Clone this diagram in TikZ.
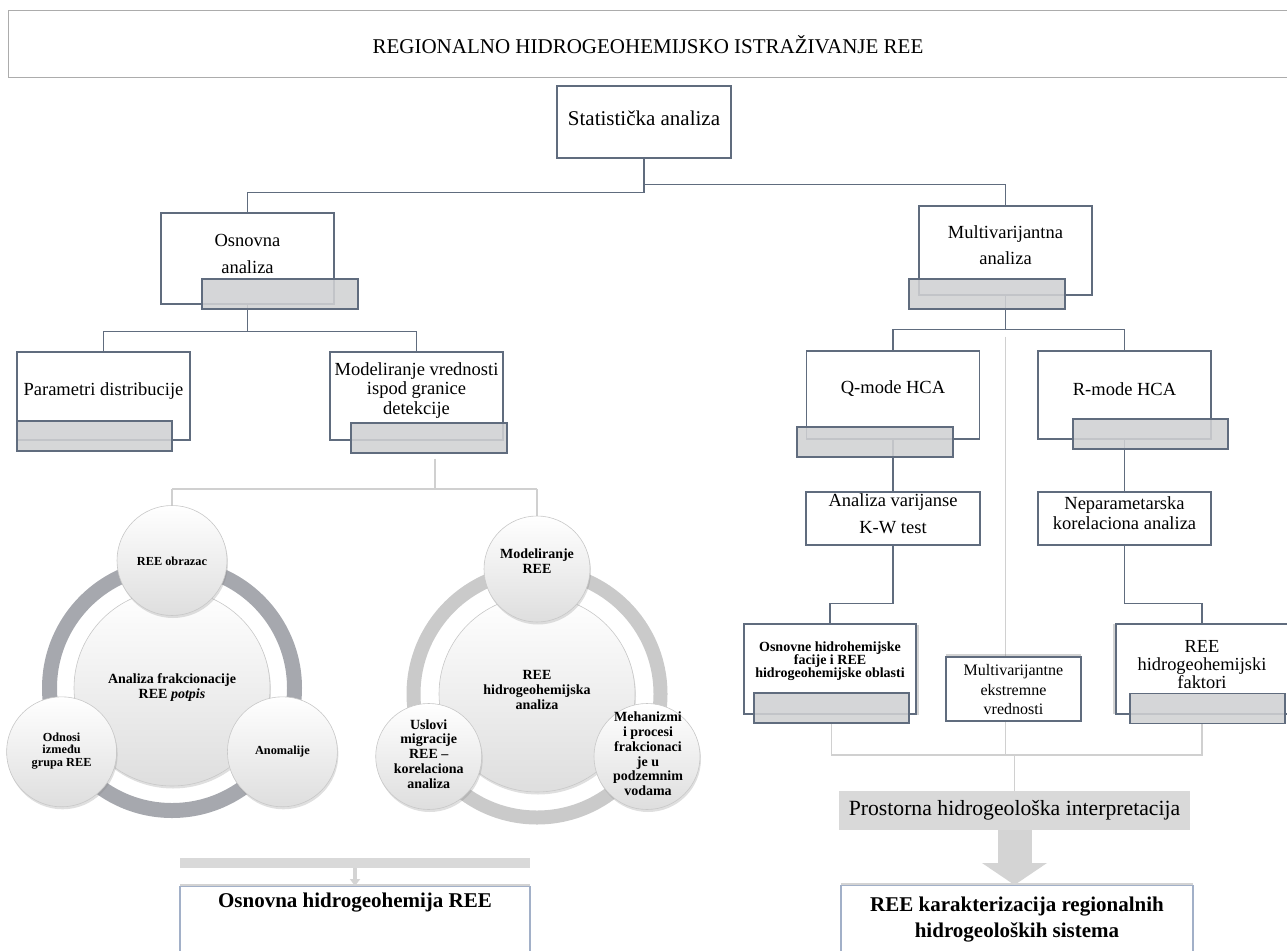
\documentclass[tikz,border=0pt]{standalone}
\usepackage{fontspec}
\setmainfont{Liberation Serif}
\usetikzlibrary{arrows.meta,shadows,backgrounds,calc}

\definecolor{boxline}{RGB}{96,108,126}
\definecolor{tabfill}{RGB}{208,209,211}
\definecolor{faintline}{RGB}{208,208,208}
\definecolor{ringdark}{RGB}{166,168,174}
\definecolor{ringlight}{RGB}{202,202,202}
\definecolor{bubbleline}{RGB}{200,200,200}
\definecolor{bubblebot}{RGB}{222,222,222}
\definecolor{prosfill}{RGB}{217,217,217}
\definecolor{arrowfill}{RGB}{212,212,212}
\definecolor{outline}{RGB}{162,176,200}
\definecolor{titleline}{RGB}{172,172,172}

\newcommand\myfs[2]{\fontsize{#1}{#2}\selectfont}

\tikzset{
  frame/.style={draw=boxline, line width=1.4pt, fill=white, inner sep=0pt},
  tabbox/.style={draw=boxline, line width=1.4pt, fill=tabfill, fill opacity=0.88,
    inner sep=0pt, minimum width=156pt, minimum height=30pt},
  txt/.style={align=center, inner sep=0pt, text=black},
  conn/.style={draw=boxline, line width=1.4pt},
  faint/.style={draw=faintline, line width=1.3pt},
  bubble/.style={circle, draw=bubbleline, line width=0.6pt, top color=white,
    bottom color=bubblebot, inner sep=0pt,
    drop shadow={opacity=0.25, shadow xshift=1pt, shadow yshift=-2.5pt}},
  ring/.style={circle, inner sep=0pt, fill=none},
  result/.style={draw=outline, line width=1.2pt, fill=white, inner sep=0pt,
    drop shadow={opacity=0.35, shadow xshift=0pt, shadow yshift=3pt}},
}

\begin{document}
\begin{tikzpicture}[x=1pt, y=-1pt]
\useasboundingbox (0,0) rectangle (1287,950);
\clip (0,0) rectangle (1287,950);

% ---------- heading ----------
\node[draw=titleline, line width=1.2pt, fill=white, minimum width=1300pt,
      minimum height=67pt, anchor=north west, inner sep=0pt] (title) at (8,10) {};
\node[txt, font=\myfs{21}{26}] (titleT) at (648,45)
  {REGIONALNO HIDROGEOHEMIJSKO ISTRAŽIVANJE REE};

% ---------- tree of analyses ----------
\node[frame, minimum width=174pt, minimum height=72pt] (stat) at (644,122) {};
\node[txt, font=\myfs{21}{26}] (statT) at (644,118) {Statistička analiza};

\node[frame, minimum width=173pt, minimum height=91pt] (osn) at (247.5,258.5) {};
\node[txt, font=\myfs{18.5}{27}] (osnT) at (247.5,253.5) {Osnovna\\analiza};
\node[tabbox] (osnTab) at (280,294) {};

\node[frame, minimum width=173pt, minimum height=89pt] (multi) at (1005.5,250.5) {};
\node[txt, font=\myfs{18.5}{26}] (multiT) at (1005.5,245) {Multivarijantna\\analiza};
\node[tabbox] (multiTab) at (987,294) {};

\node[frame, minimum width=173pt, minimum height=88pt] (par) at (103.5,396) {};
\node[txt, font=\myfs{18.5}{22}] (parT) at (103.5,391) {Parametri distribucije};
\node[tabbox, minimum width=155pt] (parTab) at (94.5,436) {};

\node[frame, minimum width=173pt, minimum height=88pt] (mod) at (416.5,396) {};
\node[txt, font=\myfs{18.5}{19.5}] (modT) at (416.5,390.5)
  {Modeliranje vrednosti\\ispod granice\\detekcije};
\node[tabbox] (modTab) at (429,438) {};

\node[frame, minimum width=173pt, minimum height=88pt] (q) at (893,395) {};
\node[txt, font=\myfs{18.5}{22}] (qT) at (893,389) {Q-mode HCA};
\node[tabbox] (qTab) at (875,442) {};

\node[frame, minimum width=173pt, minimum height=88pt] (r) at (1124.5,395) {};
\node[txt, font=\myfs{18.5}{22}] (rT) at (1124.5,389) {R-mode HCA};
\node[tabbox, minimum width=155pt] (rTab) at (1150.5,434) {};

\node[frame, minimum width=174pt, minimum height=53pt] (av) at (893,518.5) {};
\node[txt, font=\myfs{18.5}{27}] (avT) at (893,513.5) {Analiza varijanse\\K-W test};

\node[frame, minimum width=173pt, minimum height=53pt] (np) at (1124.5,518.5) {};
\node[txt, font=\myfs{18.5}{20}] (npT) at (1124.5,513)
  {Neparametarska\\korelaciona analiza};

\node[frame, minimum width=172pt, minimum height=90pt,
      drop shadow={opacity=0.35, shadow xshift=2.5pt, shadow yshift=-1pt}] (osnf) at (830,669) {};
\node[txt, font=\bfseries\myfs{14}{13}] (osnfT) at (830,661)
  {Osnovne hidrohemijske\\facije i REE\\hidrogeohemijske oblasti};
\node[tabbox, minimum width=155pt] (osnfTab) at (831.5,708) {};

\node[frame, minimum width=135pt, minimum height=64pt,
      drop shadow={opacity=0.35, shadow xshift=0pt, shadow yshift=3pt}] (mev) at (1013.5,689) {};
\node[txt, font=\myfs{16}{19.5}] (mevT) at (1013.5,690)
  {Multivarijantne\\ekstremne\\vrednosti};

\node[frame, minimum width=172pt, minimum height=90pt,
      drop shadow={opacity=0.35, shadow xshift=-3pt, shadow yshift=0pt}] (fak) at (1202,669) {};
\node[txt, font=\myfs{18.4}{18}] (fakT) at (1202,665)
  {REE\\hidrogeohemijski\\faktori};
\node[tabbox, minimum width=155pt] (fakTab) at (1207.5,708.5) {};

% ---------- synthesis boxes ----------
\node[fill=prosfill, minimum width=351pt, minimum height=39pt, inner sep=0pt] (pros) at (1014.5,810.5) {};
\node[txt, font=\myfs{21.7}{26}] (prosT) at (1014.5,810)
  {Prostorna hidrogeološka interpretacija};

\node[result, minimum width=352pt, minimum height=80pt, anchor=north] (rkar) at (1017,885) {};
\node[txt, font=\bfseries\myfs{21}{26}] (rkarT) at (1017,920)
  {REE karakterizacija regionalnih\\hidrogeoloških sistema};

\node[fill=prosfill, minimum width=350pt, minimum height=10pt, inner sep=0pt] (bar) at (355,863) {};
\node[result, minimum width=350pt, minimum height=80pt, anchor=north] (obox) at (355,886) {};
\node[txt, font=\bfseries\myfs{21}{26}] (oboxT) at (355,903) {Osnovna hidrogeohemija REE};

% ---------- cycle: fractionation ----------
\node[ring, draw=ringdark, line width=15pt, minimum size=245pt] (ringL) at (172,688) {};
\node[bubble, minimum size=196pt] (lc) at (172,688) {};
\node[txt, font=\bfseries\myfs{14}{15}] (lcT) at (172,688)
  {Analiza frakcionacije\\REE \textit{potpis}};
\node[bubble, minimum size=110pt] (ltop) at (172,560.5) {};
\node[txt, font=\bfseries\myfs{12.3}{13}] (ltopT) at (172,561) {REE obrazac};
\node[bubble, minimum size=110pt] (lbl) at (61.6,751.8) {};
\node[txt, font=\bfseries\myfs{12.3}{12.8}] (lblT) at (61.6,751)
  {Odnosi\\između\\grupa REE};
\node[bubble, minimum size=110pt] (lbr) at (282.4,751.8) {};
\node[txt, font=\bfseries\myfs{12.3}{13}] (lbrT) at (282.4,752) {Anomalije};

% ---------- cycle: hydrogeochemistry ----------
\node[ring, draw=ringlight, line width=14pt, minimum size=247pt] (ringR) at (537,694) {};
\node[bubble, minimum size=196pt] (rc) at (537,694) {};
\node[txt, font=\bfseries\myfs{14}{15}] (rcT) at (537,690)
  {REE\\hidrogeohemijska\\analiza};
\node[bubble, minimum size=106pt] (rtop) at (537,569) {};
\node[txt, font=\bfseries\myfs{14}{15}] (rtopT) at (537,561) {Modeliranje\\REE};
\node[bubble, minimum size=106pt] (rbl) at (428.7,756.5) {};
\node[txt, font=\bfseries\myfs{14}{14.8}] (rblT) at (428.7,754)
  {Uslovi\\migracije\\REE –\\korelaciona\\analiza};
\node[bubble, minimum size=106pt] (rbr) at (647,756.5) {};
\node[txt, font=\bfseries\myfs{14}{14.8}] (rbrT) at (648,754)
  {Mehanizmi\\i procesi\\frakcionaci\\je u\\podzemnim\\vodama};

% ---------- connectors ----------
\coordinate (lj) at (435,489);
\coordinate (rj) at (1011,755);
\begin{scope}[on background layer]
  \draw[conn] (stat.south) -- ++(0,26) -| (multi.north);
  \draw[conn] (stat.south) -- ++(0,34) -| (osn.north);
  \draw[conn] (osn.south) -- ++(0,27) -| (par.north);
  \draw[conn] (osn.south) -- ++(0,27) -| (mod.north);
  \draw[conn] (multi.south) -- ++(0,34) -| (q.north);
  \draw[conn] (multi.south) -- ++(0,34) -| (r.north);
  \draw[conn] (q.south) -- (av.north);
  \draw[conn] (r.south) -- (np.north);
  \draw[conn] (av.south) -- ++(0,58) -| (osnf.north);
  \draw[conn] (np.south) -- ++(0,58) -| (fak.north);

  \draw[faint] ([xshift=6pt,yshift=-5pt]modTab.south) -- (lj);
  \draw[faint] (ltop.north |- lj) -- (rtop.north |- lj);
  \draw[faint] (ltop.north |- lj) -- (ltop.north);
  \draw[faint] (rtop.north |- lj) -- (rtop.north);

  \draw[faint] ([yshift=-41pt]multi.south) -- (multi.south |- rj);
  \draw[faint] (osnfTab.south) |- (rj) -| (fak.south |- fakTab.south);
  \draw[faint] (pros.north |- rj) -- (pros.north);
\end{scope}

% arrows into the synthesis boxes
\draw[draw=arrowfill, line width=34pt,
      -{Triangle[width=64pt, length=22pt]}] (pros.south) -- (pros.south |- rkar.north);
\draw[draw=arrowfill, line width=4pt,
      -{Triangle[width=10pt, length=7pt]}] (bar.south) -- (obox.north);
\end{tikzpicture}
\end{document}
